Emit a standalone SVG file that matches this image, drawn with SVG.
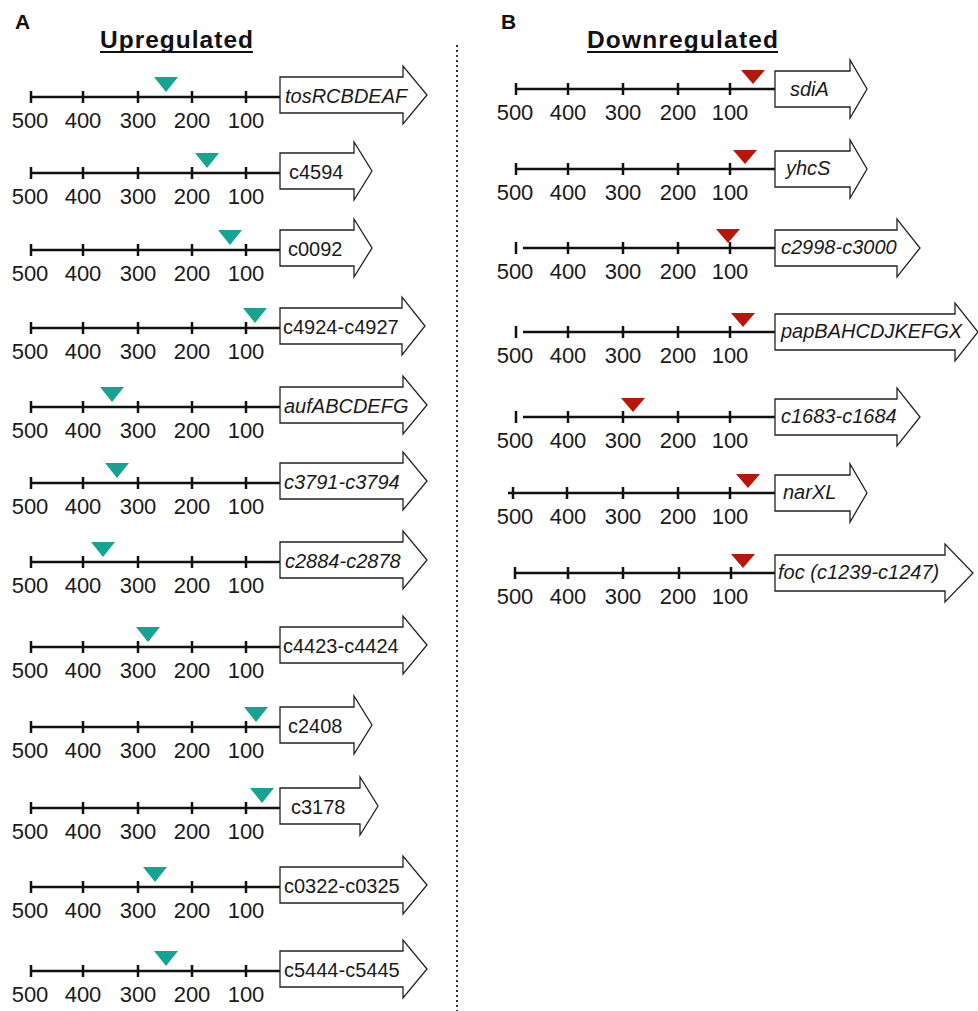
<svg xmlns="http://www.w3.org/2000/svg" width="978" height="1011" viewBox="0 0 978 1011">
  <style>
    .axis { stroke: #111; stroke-width: 2.5; fill: none; }
    .tick { stroke: #111; stroke-width: 2.5; }
    .num { font-family: "Liberation Sans", Arial, sans-serif; font-size: 22px; fill: #1a1a1a; text-anchor: middle; }
    .gene { fill: #fff; stroke: #222; stroke-width: 1.3; stroke-linejoin: miter; }
    .lbl { font-family: "Liberation Sans", Arial, sans-serif; font-size: 20px; fill: #1a1a1a; }
    .it { font-style: italic; }
    .up { fill: #17a393; }
    .down { fill: #b5170b; }
    .panel { font-family: "Liberation Sans", Arial, sans-serif; font-weight: bold; font-size: 21px; fill: #111; }
    .head { font-family: "Liberation Sans", Arial, sans-serif; font-weight: bold; font-size: 24.5px; fill: #111; }
    .uline { stroke: #111; stroke-width: 2; }
  </style>

  <!-- panel letters and titles -->
  <g id="titles">
    <text class="panel" x="15" y="29">A</text>
    <text class="head" x="100" y="48" textLength="153" lengthAdjust="spacing">Upregulated</text>
    <line class="uline" x1="100" y1="52" x2="253" y2="52"/>
    <text class="panel" x="501" y="29">B</text>
    <text class="head" x="587" y="48" textLength="191" lengthAdjust="spacing">Downregulated</text>
    <line class="uline" x1="587" y1="52" x2="778" y2="52"/>
  </g>

  <!-- divider between the two panels -->
  <g id="divider">
    <line x1="457" y1="45" x2="457" y2="1011" stroke="#333" stroke-width="2" stroke-dasharray="2 3"/>
  </g>

  <!-- Panel A: upregulated promoters -->
  <g id="up-tosRCBDEAF">
    <line class="axis" x1="31" y1="97" x2="280" y2="97"/>
    <path class="tick" d="M31,91V103M83,91V103M138,91V103M192,91V103M246,91V103"/>
    <text class="num" y="128"><tspan x="30">500</tspan><tspan x="83">400</tspan><tspan x="138">300</tspan><tspan x="192">200</tspan><tspan x="246">100</tspan></text>
    <path class="up" d="M154,77H178L166,92Z"/>
    <path class="gene" d="M280,77H403V66L427,95L403,124V113H280Z"/>
    <text class="lbl it" x="285" y="103">tosRCBDEAF</text>
  </g>

  <g id="up-c4594">
    <line class="axis" x1="31" y1="173" x2="280" y2="173"/>
    <path class="tick" d="M31,167V179M83,167V179M138,167V179M192,167V179M246,167V179"/>
    <text class="num" y="204"><tspan x="30">500</tspan><tspan x="83">400</tspan><tspan x="138">300</tspan><tspan x="192">200</tspan><tspan x="246">100</tspan></text>
    <path class="up" d="M195,153H219L207,168Z"/>
    <path class="gene" d="M280,153H354V142L372,171L354,200V189H280Z"/>
    <text class="lbl" x="289" y="179">c4594</text>
  </g>

  <g id="up-c0092">
    <line class="axis" x1="31" y1="250" x2="280" y2="250"/>
    <path class="tick" d="M31,244V256M83,244V256M138,244V256M192,244V256M246,244V256"/>
    <text class="num" y="281"><tspan x="30">500</tspan><tspan x="83">400</tspan><tspan x="138">300</tspan><tspan x="192">200</tspan><tspan x="246">100</tspan></text>
    <path class="up" d="M218,230H242L230,245Z"/>
    <path class="gene" d="M280,230H354V219L372,248L354,277V266H280Z"/>
    <text class="lbl" x="288" y="256">c0092</text>
  </g>

  <g id="up-c4924-c4927">
    <line class="axis" x1="31" y1="328" x2="280" y2="328"/>
    <path class="tick" d="M31,322V334M83,322V334M138,322V334M192,322V334M246,322V334"/>
    <text class="num" y="359"><tspan x="30">500</tspan><tspan x="83">400</tspan><tspan x="138">300</tspan><tspan x="192">200</tspan><tspan x="246">100</tspan></text>
    <path class="up" d="M243,308H267L255,323Z"/>
    <path class="gene" d="M280,308H402V297L425,326L402,355V344H280Z"/>
    <text class="lbl" x="283" y="334">c4924-c4927</text>
  </g>

  <g id="up-aufABCDEFG">
    <line class="axis" x1="31" y1="407" x2="280" y2="407"/>
    <path class="tick" d="M31,401V413M83,401V413M138,401V413M192,401V413M246,401V413"/>
    <text class="num" y="438"><tspan x="30">500</tspan><tspan x="83">400</tspan><tspan x="138">300</tspan><tspan x="192">200</tspan><tspan x="246">100</tspan></text>
    <path class="up" d="M100,387H124L112,402Z"/>
    <path class="gene" d="M280,387H403V376L427,405L403,434V423H280Z"/>
    <text class="lbl it" x="284" y="413">aufABCDEFG</text>
  </g>

  <g id="up-c3791-c3794">
    <line class="axis" x1="31" y1="483" x2="280" y2="483"/>
    <path class="tick" d="M31,477V489M83,477V489M138,477V489M192,477V489M246,477V489"/>
    <text class="num" y="514"><tspan x="30">500</tspan><tspan x="83">400</tspan><tspan x="138">300</tspan><tspan x="192">200</tspan><tspan x="246">100</tspan></text>
    <path class="up" d="M105,463H129L117,478Z"/>
    <path class="gene" d="M280,463H403V452L427,481L403,510V499H280Z"/>
    <text class="lbl it" x="284" y="489">c3791-c3794</text>
  </g>

  <g id="up-c2884-c2878">
    <line class="axis" x1="31" y1="562" x2="280" y2="562"/>
    <path class="tick" d="M31,556V568M83,556V568M138,556V568M192,556V568M246,556V568"/>
    <text class="num" y="593"><tspan x="30">500</tspan><tspan x="83">400</tspan><tspan x="138">300</tspan><tspan x="192">200</tspan><tspan x="246">100</tspan></text>
    <path class="up" d="M91,542H115L103,557Z"/>
    <path class="gene" d="M280,542H403V531L427,560L403,589V578H280Z"/>
    <text class="lbl it" x="285" y="568">c2884-c2878</text>
  </g>

  <g id="up-c4423-c4424">
    <line class="axis" x1="31" y1="647" x2="280" y2="647"/>
    <path class="tick" d="M31,641V653M83,641V653M138,641V653M192,641V653M246,641V653"/>
    <text class="num" y="678"><tspan x="30">500</tspan><tspan x="83">400</tspan><tspan x="138">300</tspan><tspan x="192">200</tspan><tspan x="246">100</tspan></text>
    <path class="up" d="M136,627H160L148,642Z"/>
    <path class="gene" d="M280,627H403V616L427,645L403,674V663H280Z"/>
    <text class="lbl" x="283" y="653">c4423-c4424</text>
  </g>

  <g id="up-c2408">
    <line class="axis" x1="31" y1="727" x2="280" y2="727"/>
    <path class="tick" d="M31,721V733M83,721V733M138,721V733M192,721V733M246,721V733"/>
    <text class="num" y="758"><tspan x="30">500</tspan><tspan x="83">400</tspan><tspan x="138">300</tspan><tspan x="192">200</tspan><tspan x="246">100</tspan></text>
    <path class="up" d="M244,707H268L256,722Z"/>
    <path class="gene" d="M280,707H354V696L372,725L354,754V743H280Z"/>
    <text class="lbl" x="288" y="733">c2408</text>
  </g>

  <g id="up-c3178">
    <line class="axis" x1="31" y1="808" x2="280" y2="808"/>
    <path class="tick" d="M31,802V814M83,802V814M138,802V814M192,802V814M246,802V814"/>
    <text class="num" y="839"><tspan x="30">500</tspan><tspan x="83">400</tspan><tspan x="138">300</tspan><tspan x="192">200</tspan><tspan x="246">100</tspan></text>
    <path class="up" d="M250,788H274L262,803Z"/>
    <path class="gene" d="M280,788H360V777L378,806L360,835V824H280Z"/>
    <text class="lbl" x="291" y="814">c3178</text>
  </g>

  <g id="up-c0322-c0325">
    <line class="axis" x1="31" y1="887" x2="280" y2="887"/>
    <path class="tick" d="M31,881V893M83,881V893M138,881V893M192,881V893M246,881V893"/>
    <text class="num" y="918"><tspan x="30">500</tspan><tspan x="83">400</tspan><tspan x="138">300</tspan><tspan x="192">200</tspan><tspan x="246">100</tspan></text>
    <path class="up" d="M143,867H167L155,882Z"/>
    <path class="gene" d="M280,867H403V856L427,885L403,914V903H280Z"/>
    <text class="lbl" x="284" y="893">c0322-c0325</text>
  </g>

  <g id="up-c5444-c5445">
    <line class="axis" x1="31" y1="971" x2="280" y2="971"/>
    <path class="tick" d="M31,965V977M83,965V977M138,965V977M192,965V977M246,965V977"/>
    <text class="num" y="1002"><tspan x="30">500</tspan><tspan x="83">400</tspan><tspan x="138">300</tspan><tspan x="192">200</tspan><tspan x="246">100</tspan></text>
    <path class="up" d="M154,951H178L166,966Z"/>
    <path class="gene" d="M280,951H403V940L427,969L403,998V987H280Z"/>
    <text class="lbl" x="284" y="977">c5444-c5445</text>
  </g>

  <!-- Panel B: downregulated promoters -->
  <g id="down-sdiA">
    <line class="axis" x1="516" y1="89" x2="775" y2="89"/>
    <path class="tick" d="M516,83V95M568,83V95M623,83V95M678,83V95M730,83V95"/>
    <text class="num" y="120"><tspan x="515">500</tspan><tspan x="568">400</tspan><tspan x="623">300</tspan><tspan x="678">200</tspan><tspan x="730">100</tspan></text>
    <path class="down" d="M741,70H765L753,84Z"/>
    <path class="gene" d="M775,71H850V60L867,89L850,118V107H775Z"/>
    <text class="lbl it" x="790" y="96">sdiA</text>
  </g>

  <g id="down-yhcS">
    <line class="axis" x1="516" y1="169" x2="775" y2="169"/>
    <path class="tick" d="M516,163V175M568,163V175M623,163V175M678,163V175M730,163V175"/>
    <text class="num" y="200"><tspan x="515">500</tspan><tspan x="568">400</tspan><tspan x="623">300</tspan><tspan x="678">200</tspan><tspan x="730">100</tspan></text>
    <path class="down" d="M733,150H757L745,164Z"/>
    <path class="gene" d="M775,151H850V140L867,169L850,198V187H775Z"/>
    <text class="lbl it" x="786" y="175">yhcS</text>
  </g>

  <g id="down-c2998-c3000">
    <line class="axis" x1="523" y1="248" x2="775" y2="248"/>
    <path class="tick" d="M516,242V254M568,242V254M623,242V254M678,242V254M730,242V254"/>
    <text class="num" y="279"><tspan x="515">500</tspan><tspan x="568">400</tspan><tspan x="623">300</tspan><tspan x="678">200</tspan><tspan x="730">100</tspan></text>
    <path class="down" d="M716,229H740L728,243Z"/>
    <path class="gene" d="M775,230H897V219L920,248L897,277V266H775Z"/>
    <text class="lbl it" x="781" y="254">c2998-c3000</text>
  </g>

  <g id="down-papBAHCDJKEFGX">
    <line class="axis" x1="523" y1="332" x2="775" y2="332"/>
    <path class="tick" d="M516,326V338M568,326V338M623,326V338M678,326V338M730,326V338"/>
    <text class="num" y="363"><tspan x="515">500</tspan><tspan x="568">400</tspan><tspan x="623">300</tspan><tspan x="678">200</tspan><tspan x="730">100</tspan></text>
    <path class="down" d="M731,313H755L743,327Z"/>
    <path class="gene" d="M775,314H955V303L978,332L955,361V350H775Z"/>
    <text class="lbl it" x="781" y="338">papBAHCDJKEFGX</text>
  </g>

  <g id="down-c1683-c1684">
    <line class="axis" x1="523" y1="417" x2="775" y2="417"/>
    <path class="tick" d="M516,411V423M568,411V423M623,411V423M678,411V423M730,411V423"/>
    <text class="num" y="448"><tspan x="515">500</tspan><tspan x="568">400</tspan><tspan x="623">300</tspan><tspan x="678">200</tspan><tspan x="730">100</tspan></text>
    <path class="down" d="M621,398H645L633,412Z"/>
    <path class="gene" d="M775,399H897V388L920,417L897,446V435H775Z"/>
    <text class="lbl it" x="781" y="423">c1683-c1684</text>
  </g>

  <g id="down-narXL">
    <line class="axis" x1="508" y1="493" x2="775" y2="493"/>
    <path class="tick" d="M513,487V499M567,487V499M623,487V499M678,487V499M730,487V499"/>
    <text class="num" y="524"><tspan x="515">500</tspan><tspan x="568">400</tspan><tspan x="623">300</tspan><tspan x="678">200</tspan><tspan x="730">100</tspan></text>
    <path class="down" d="M736,474H760L748,488Z"/>
    <path class="gene" d="M775,475H850V464L867,493L850,522V511H775Z"/>
    <text class="lbl it" x="783" y="499">narXL</text>
  </g>

  <g id="down-foc">
    <line class="axis" x1="515" y1="573" x2="775" y2="573"/>
    <path class="tick" d="M515,567V579M568,567V579M623,567V579M679,567V579M731,567V579"/>
    <text class="num" y="604"><tspan x="515">500</tspan><tspan x="568">400</tspan><tspan x="623">300</tspan><tspan x="678">200</tspan><tspan x="730">100</tspan></text>
    <path class="down" d="M731,554H755L743,568Z"/>
    <path class="gene" d="M775,555H945V544L973,573L945,602V591H775Z"/>
    <text class="lbl it" x="778" y="579">foc (c1239-c1247)</text>
  </g>
</svg>
